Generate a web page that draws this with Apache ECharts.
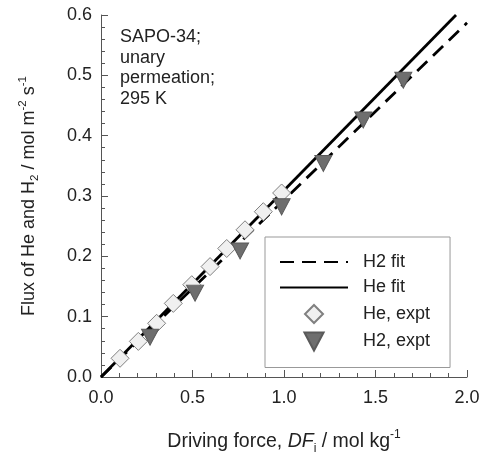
<!DOCTYPE html>
<html>
<head>
<meta charset="utf-8">
<script src="https://cdn.jsdelivr.net/npm/echarts@6/dist/echarts.min.js"></script>
<style>
  html, body { margin: 0; padding: 0; background: #fff; }
  #chart-container { width: 484px; height: 456px; }
</style>
</head>
<body>
<div id="chart-container"></div>
<script>
// 实验数据 (He: 菱形, H2: 倒三角)
var heX = [0.104, 0.204, 0.304, 0.395, 0.496, 0.596, 0.687, 0.787, 0.887, 0.987];
var heY = [0.031, 0.059, 0.089, 0.122, 0.153, 0.183, 0.213, 0.244, 0.274, 0.305];
var h2X = [0.268, 0.514, 0.760, 0.987, 1.215, 1.433, 1.652];
var h2Y = [0.066, 0.139, 0.209, 0.282, 0.354, 0.426, 0.492];

// 拟合直线的两个端点
var heFitX = [0, 1.94];
var heFitY = [0, 0.6];
var h2FitX = [0, 2.0];
var h2FitY = [0, 0.587];

var xTicks = ["0.0", "0.5", "1.0", "1.5", "2.0"];
var yTicks = ["0.0", "0.1", "0.2", "0.3", "0.4", "0.5", "0.6"];

function pairs(xs, ys) {
  return xs.map(function (x, i) { return [x, ys[i]]; });
}

var FONT = "Liberation Sans";
var TXT = "#222";
var AXIS = "#555";
var DIAMOND = "path://M5,0 L10,5 L5,10 L0,5 Z";
var TRI_DOWN = "path://M0,0 L10,0 L5,9.4 Z";

var chart_container_myChart = echarts.init(document.getElementById("chart-container"));

var chart_container_option = {
  animation: false,
  backgroundColor: "#fff",
  textStyle: { fontFamily: FONT, color: TXT },
  grid: { left: 101, right: 17, top: 15, bottom: 79, outerBoundsMode: "none" },
  // 图例
  legend: {
    orient: "vertical",
    left: 265,
    top: 237,
    padding: [16, 20, 16, 14],
    itemGap: 7.5,
    itemWidth: 68,
    itemHeight: 18,
    borderColor: "#999",
    borderWidth: 1,
    backgroundColor: "#fff",
    textStyle: { fontSize: 18, color: TXT, fontFamily: FONT, padding: [0, 0, 0, 10] },
    data: [
      { name: "H2 fit", itemStyle: { opacity: 0 } },
      { name: "He fit", itemStyle: { opacity: 0 } },
      { name: "He, expt" },
      { name: "H2, expt" },
    ],
  },
  // 左上角说明文字
  graphic: [
    {
      type: "text",
      left: 120,
      top: 27,
      style: {
        text: "SAPO-34;\nunary\npermeation;\n295 K",
        font: "18px " + FONT,
        lineHeight: 20.5,
        fill: TXT,
      },
    },
  ],
  xAxis: {
    type: "value",
    min: 0,
    max: 2,
    interval: 0.5,
    name: "{a|Driving force, }{it|DF}{sub|i}{a| / mol kg}{sup|-1}",
    nameLocation: "middle",
    nameGap: 52,
    nameTextStyle: {
      rich: {
        a: { fontSize: 19.5, color: TXT, fontFamily: FONT, lineHeight: 26 },
        it: { fontSize: 19.5, color: TXT, fontFamily: FONT, fontStyle: "italic", lineHeight: 26 },
        sub: { fontSize: 12, color: TXT, fontFamily: FONT, verticalAlign: "bottom", lineHeight: 12 },
        sup: { fontSize: 12, color: TXT, fontFamily: FONT, verticalAlign: "top", lineHeight: 12 },
      },
    },
    axisLine: { show: true, onZero: false, lineStyle: { color: AXIS, width: 1 } },
    axisTick: { show: true, inside: true, length: 7, lineStyle: { color: AXIS } },
    minorTick: { show: true, splitNumber: 5, length: 4, lineStyle: { color: AXIS } },
    splitLine: { show: false },
    axisLabel: {
      fontSize: 18,
      color: TXT,
      margin: 12,
      formatter: function (v) { return xTicks[Math.round(v / 0.5)]; },
    },
  },
  yAxis: {
    type: "value",
    min: 0,
    max: 0.6,
    interval: 0.1,
    name: "{a|Flux of He and H}{sub|2}{a| / mol m}{sup|-2}{a| s}{sup|-1}",
    nameLocation: "middle",
    nameRotate: 90,
    nameGap: 60,
    nameTextStyle: {
      rich: {
        a: { fontSize: 18, color: TXT, fontFamily: FONT, lineHeight: 24 },
        sub: { fontSize: 11.5, color: TXT, fontFamily: FONT, verticalAlign: "bottom", lineHeight: 12 },
        sup: { fontSize: 11.5, color: TXT, fontFamily: FONT, verticalAlign: "top", lineHeight: 12 },
      },
    },
    axisLine: { show: true, onZero: false, lineStyle: { color: AXIS, width: 1 } },
    axisTick: { show: true, inside: true, length: 7, lineStyle: { color: AXIS } },
    minorTick: { show: true, splitNumber: 5, length: 4, lineStyle: { color: AXIS } },
    splitLine: { show: false },
    axisLabel: {
      fontSize: 18,
      color: TXT,
      margin: 9,
      formatter: function (v) { return yTicks[Math.round(v / 0.1)]; },
    },
  },
  series: [
    {
      name: "H2 fit",
      type: "line",
      data: pairs(h2FitX, h2FitY),
      symbol: "none",
      lineStyle: { color: "#000", width: 2.8, type: [14, 8] },
      itemStyle: { color: "#000" },
      z: 2,
    },
    {
      name: "He fit",
      type: "line",
      data: pairs(heFitX, heFitY),
      symbol: "none",
      lineStyle: { color: "#000", width: 2.8 },
      itemStyle: { color: "#000" },
      z: 2,
    },
    {
      name: "He, expt",
      type: "scatter",
      data: pairs(heX, heY),
      symbol: DIAMOND,
      symbolSize: 18,
      itemStyle: { color: "#f0f0f0", borderColor: "#808080", borderWidth: 1, opacity: 1 },
      z: 3,
    },
    {
      name: "H2, expt",
      type: "scatter",
      data: pairs(h2X, h2Y),
      symbol: TRI_DOWN,
      symbolSize: [17, 16],
      itemStyle: { color: "#6e6e6e", borderColor: "#5a5a5a", borderWidth: 1, opacity: 1 },
      z: 4,
    },
  ],
};

chart_container_option && chart_container_myChart.setOption(chart_container_option);
</script>
</body>
</html>
